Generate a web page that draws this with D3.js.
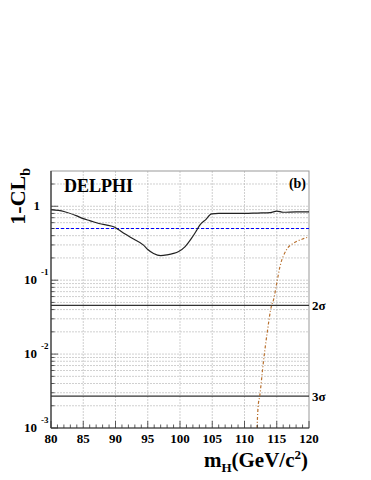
<!DOCTYPE html>
<html>
<head>
<meta charset="utf-8">
<script src="https://cdn.jsdelivr.net/npm/d3@7"></script>
<style>
  body { margin: 0; background: #fff; }
</style>
</head>
<body>
<svg id="chart"></svg>
<script>
(function (d3) {
    'use strict';

    // observed 1-CLb
    var obsMass = [80, 82, 84, 85, 86, 87.6, 88.5, 89.9, 90.5, 91.5, 92.8, 94.3, 95, 95.9, 97, 98, 99, 99.8, 100.8, 101.8, 102.5, 103.1, 104, 104.9, 106, 108, 110, 112, 114, 115, 116, 118, 120];
    var obsClb = [0.90, 0.85, 0.74, 0.68, 0.64, 0.58, 0.56, 0.52, 0.48, 0.42, 0.36, 0.30, 0.26, 0.23, 0.215, 0.22, 0.23, 0.245, 0.285, 0.37, 0.46, 0.56, 0.66, 0.79, 0.80, 0.80, 0.80, 0.81, 0.82, 0.86, 0.83, 0.84, 0.84];

    // expected for signal (dash-dot)
    var sigMass = [111.94, 112.1, 112.36, 112.9, 113.5, 114.2, 114.5, 115, 115.5, 116.5, 117.6, 119, 120];
    var sigClb = [0.001, 0.0019, 0.0027, 0.0074, 0.019, 0.0455, 0.054, 0.091, 0.153, 0.257, 0.317, 0.36, 0.385];

    var medianLevel = 0.5;
    var sigmaLevels = [0.0455, 0.0027];
    var sigmaLabels = ['2\u03c3', '3\u03c3'];
    var xTicks = [80, 85, 90, 95, 100, 105, 110, 115, 120];
    var yDecades = [1e-3, 1e-2, 1e-1, 1];

    var FONT = '"Liberation Serif", "Times New Roman", Times, serif';

    var width = 371, height = 480,
        margin = { top: 171, right: 62, bottom: 52, left: 51 };

    var x = d3.scaleLinear().domain([80, 120]).range([margin.left, width - margin.right]),
        y = d3.scaleLog().domain([1e-3, 3]).range([height - margin.bottom, margin.top]);

    var svg = d3.select('#chart').attr('width', width).attr('height', height)
        .attr('font-family', FONT).attr('font-weight', 'bold');

    // grid
    var yGrid = [];
    [1e-3, 1e-2, 1e-1, 1].forEach(function (dec) {
        for (var k = 1; k < 10; k++) {
            var v = dec * k;
            if (v > 1e-3 && v < 3) yGrid.push(v);
        }
    });
    svg.append('g').selectAll('line')
        .data(yGrid)
        .enter().append('line')
        .attr('x1', x(80)).attr('x2', x(120))
        .attr('y1', function (d) { return y(d); })
        .attr('y2', function (d) { return y(d); })
        .attr('stroke', '#bbb').attr('stroke-width', 0.7)
        .attr('stroke-dasharray', '2,1');

    svg.append('g').selectAll('line')
        .data(xTicks.slice(1, -1))
        .enter().append('line')
        .attr('x1', function (d) { return x(d); })
        .attr('x2', function (d) { return x(d); })
        .attr('y1', y(1e-3)).attr('y2', y(3))
        .attr('stroke', '#bbb').attr('stroke-width', 0.7)
        .attr('stroke-dasharray', '2,1');

    // frame
    svg.append('rect')
        .attr('x', x(80)).attr('y', y(3))
        .attr('width', x(120) - x(80)).attr('height', y(1e-3) - y(3))
        .attr('fill', 'none').attr('stroke', '#999').attr('stroke-width', 1);

    // sigma lines
    svg.append('g').selectAll('line')
        .data(sigmaLevels)
        .enter().append('line')
        .attr('x1', x(80)).attr('x2', x(120))
        .attr('y1', function (d) { return y(d); })
        .attr('y2', function (d) { return y(d); })
        .attr('stroke', '#333').attr('stroke-width', 1.3);

    svg.append('g').selectAll('text')
        .data(sigmaLevels)
        .enter().append('text')
        .attr('x', x(120) + 3)
        .attr('y', function (d) { return y(d) + 5; })
        .attr('font-size', 13)
        .text(function (d, i) { return sigmaLabels[i]; });

    // median line
    svg.append('line')
        .attr('x1', x(80)).attr('x2', x(120))
        .attr('y1', y(medianLevel)).attr('y2', y(medianLevel))
        .attr('stroke', '#0000ff').attr('stroke-width', 1)
        .attr('stroke-dasharray', '3,2');

    var line = d3.line()
        .x(function (d) { return x(d[0]); })
        .y(function (d) { return y(d[1]); })
        .curve(d3.curveMonotoneX);

    svg.append('path')
        .datum(d3.zip(obsMass, obsClb))
        .attr('d', line)
        .attr('fill', 'none').attr('stroke', '#222').attr('stroke-width', 1.2);

    svg.append('path')
        .datum(d3.zip(sigMass, sigClb))
        .attr('d', line)
        .attr('fill', 'none').attr('stroke', '#b8702e').attr('stroke-width', 1.2)
        .attr('stroke-dasharray', '3,2,1,2');

    // axes
    var x0 = x(80), yb = y(1e-3);
    svg.append('line').attr('x1', x0).attr('x2', x(120)).attr('y1', yb).attr('y2', yb)
        .attr('stroke', '#333').attr('stroke-width', 1.2);
    svg.append('line').attr('x1', x0).attr('x2', x0).attr('y1', yb).attr('y2', y(3))
        .attr('stroke', '#333').attr('stroke-width', 1.2);

    svg.append('g').selectAll('line')
        .data(d3.range(80, 121, 1))
        .enter().append('line')
        .attr('x1', function (d) { return x(d); })
        .attr('x2', function (d) { return x(d); })
        .attr('y1', yb)
        .attr('y2', function (d) { return yb - (d % 5 === 0 ? 7 : 3.5); })
        .attr('stroke', '#333').attr('stroke-width', 0.8);

    svg.append('g').selectAll('line')
        .data(yGrid.concat([1e-3]))
        .enter().append('line')
        .attr('x1', x0)
        .attr('x2', function (d) {
            var l = Math.log10(d);
            return x0 + (Math.abs(l - Math.round(l)) < 1e-9 ? 7 : 3.5);
        })
        .attr('y1', function (d) { return y(d); })
        .attr('y2', function (d) { return y(d); })
        .attr('stroke', '#333').attr('stroke-width', 0.8);

    svg.append('g').selectAll('text')
        .data(xTicks)
        .enter().append('text')
        .attr('x', function (d) { return x(d); })
        .attr('y', yb + 15)
        .attr('text-anchor', 'middle')
        .attr('font-size', 13)
        .text(function (d) { return d; });

    var yLab = svg.append('g').selectAll('g')
        .data(yDecades)
        .enter().append('g');
    yLab.append('text')
        .attr('x', function (d) { return d === 1 ? 40 : 37; })
        .attr('y', function (d) { return y(d) + 4; })
        .attr('text-anchor', 'end')
        .attr('font-size', 13)
        .text(function (d) { return d === 1 ? '1' : '10'; });
    yLab.append('text')
        .attr('x', 41)
        .attr('y', function (d) { return y(d) - 5; })
        .attr('font-size', 9)
        .text(function (d) { return d === 1 ? '' : String(Math.round(Math.log10(d))); });

    // titles
    svg.append('text')
        .attr('transform', 'translate(25,168) rotate(-90)')
        .attr('text-anchor', 'end')
        .attr('font-size', 22)
        .html('1-CL<tspan dy="5" font-size="14">b</tspan>');

    svg.append('text')
        .attr('x', 308).attr('y', 467)
        .attr('text-anchor', 'end')
        .attr('font-size', 21)
        .html('m<tspan dy="5" font-size="13">H</tspan><tspan dy="-5">(GeV/c</tspan><tspan dy="-8" font-size="13">2</tspan><tspan dy="8">)</tspan>');

    svg.append('text')
        .attr('x', 64).attr('y', 192)
        .attr('font-size', 18)
        .text('DELPHI');

    svg.append('text')
        .attr('x', 306).attr('y', 188)
        .attr('text-anchor', 'end')
        .attr('font-size', 14)
        .text('(b)');

})(window.d3);
</script>
</body>
</html>
